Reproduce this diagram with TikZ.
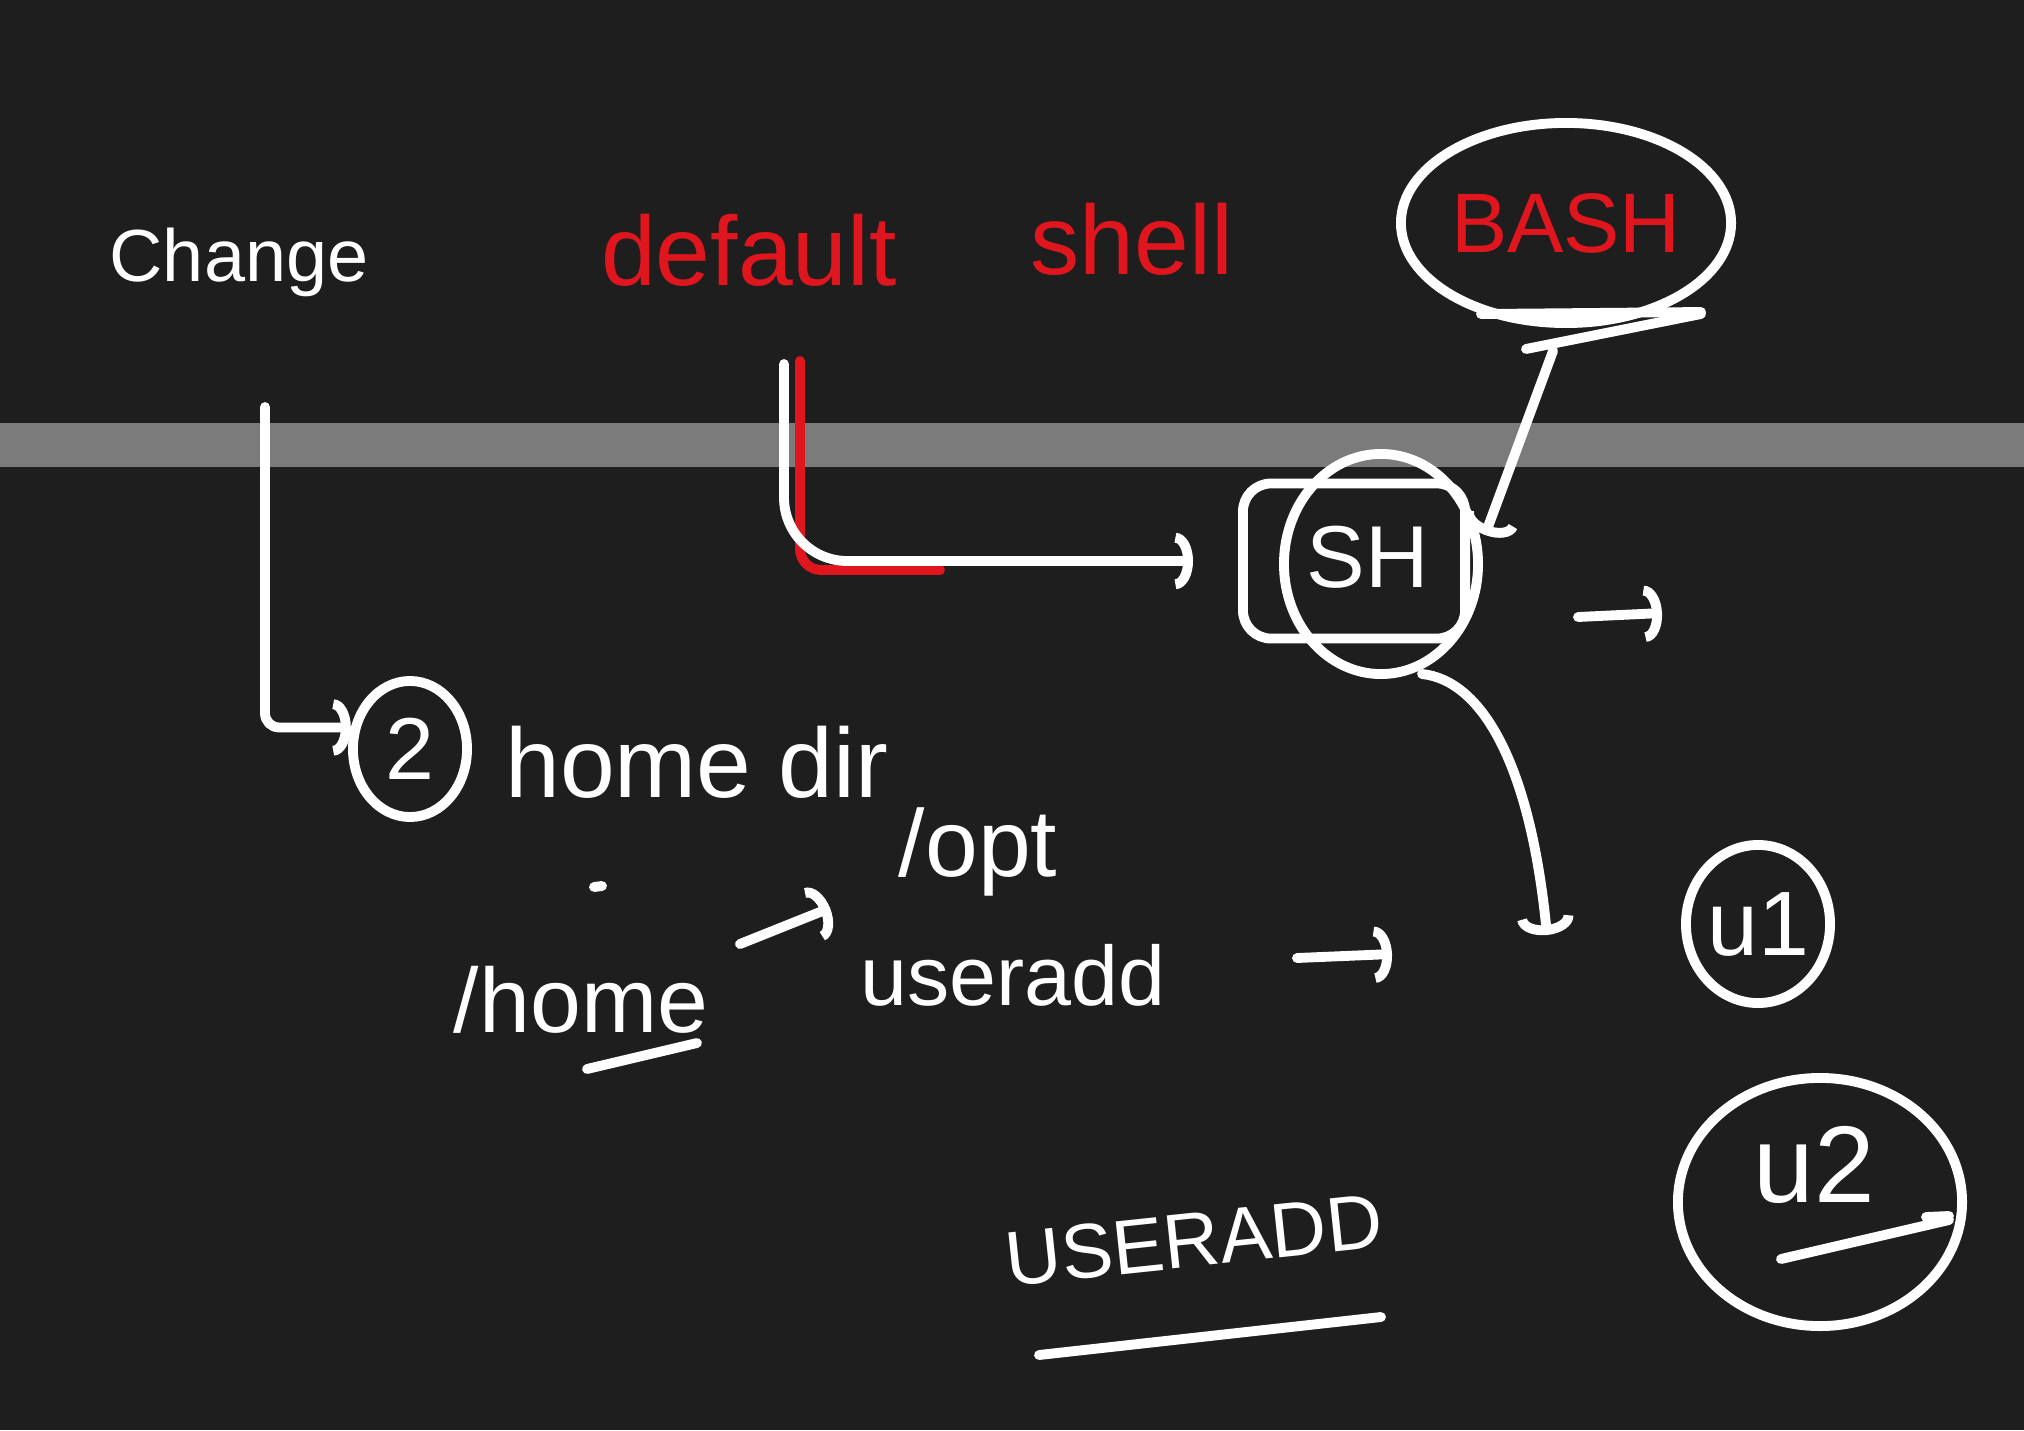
\documentclass[tikz,border=0pt]{standalone}
\usepackage{fontspec}
\setmainfont{Liberation Sans}
\usetikzlibrary{arrows.meta,shapes.geometric}
\definecolor{bgc}{HTML}{1E1E1E}
\definecolor{band}{HTML}{7B7B7B}
\definecolor{inkred}{HTML}{E0161E}
\begin{document}
\begin{tikzpicture}[x=0.01cm,y=-0.01cm,
  ink/.style={white,line width=2.8pt,line cap=round,line join=round},
  rink/.style={inkred,line width=2.8pt,line cap=round,line join=round},
  tipped/.style={ink,-{Arc Barb[length=5pt,width=16pt]}},
  lbl/.style={white,inner sep=0pt},
  rlbl/.style={inkred,inner sep=0pt},
  ring/.style={ink,ellipse,inner sep=0pt}]
\fill[bgc] (0,0) rectangle (2024,1430);
\useasboundingbox (0,0) rectangle (2024,1430);
\fill[band] (0,423) rectangle (2024,467);

% texts
\node[lbl,font=\fontsize{21}{25}\selectfont] (change) at (239,262) {Change};
\node[rlbl,font=\fontsize{28}{32}\selectfont] (default) at (749,250) {default};
\node[rlbl,font=\fontsize{28}{32}\selectfont] (shell) at (1132,239) {shell};
\node[ring,draw,minimum width=3.3cm,minimum height=2.0cm,text=inkred,font=\fontsize{24}{28}\selectfont] (bash) at (1566,223) {BASH};
\node[ring,draw,minimum width=1.14cm,minimum height=1.36cm,text=white,font=\fontsize{25}{29}\selectfont] (two) at (410,749) {2};
\node[lbl,font=\fontsize{28}{32}\selectfont] (homedir) at (697,762) {home dir};
\node[lbl,font=\fontsize{26}{30}\selectfont] (home) at (581,1000) {/home};
\node[lbl,font=\fontsize{27}{31}\selectfont] (opt) at (978,852) {/opt};
\node[lbl,font=\fontsize{24}{28}\selectfont] (useradd) at (1013,975) {useradd};
\node[ink,draw,rectangle,rounded corners=8pt,minimum width=2.22cm,minimum height=1.55cm] (shbox) at (1354,561) {};
\node[ring,draw,minimum width=1.94cm,minimum height=2.2cm] (shring) at (1381,564) {};
\node[lbl,font=\fontsize{25}{29}\selectfont] (sh) at (1368,557) {SH};
\node[ring,draw,minimum width=1.44cm,minimum height=1.58cm,text=white,font=\fontsize{26}{30}\selectfont] (u1) at (1758,924) {u1};
\node[ring,draw,minimum width=2.84cm,minimum height=2.48cm] (u2) at (1820,1202) {};
\node[lbl,font=\fontsize{31}{35}\selectfont] (u2lbl) at (1814,1165) {u2};
\node[lbl,rotate=6,font=\fontsize{22}{26}\selectfont] (useraddcap) at (1194,1240) {USERADD};

% marks
\draw[ink] (587,1069) -- (697,1043);
\draw[ink] (1039,1355) -- (1381,1317);
\draw[ink] (594,887) -- (602,886);
\draw[ink] (1481,314) -- (1701,312);
\draw[ink] (1526,349) -- (1701,314);
\draw[ink] (1781,1259) -- (1949,1220);
\draw[ink] (1926,1217) -- (1949,1216);

% connectors
\coordinate (chgA) at (265,407);
\draw[tipped,rounded corners=4pt] (chgA) |- (two.160);
\coordinate (redA) at (800,361);
\coordinate (redB) at (940,570);
\draw[rink,rounded corners=6pt] (redA) |- (redB);
\coordinate (defA) at (784,364);
\draw[tipped,rounded corners=18pt,shorten >=0.45cm] (defA) |- (shbox.west);
\coordinate (bA) at (1553,351);
\coordinate (bB) at (1485,535);
\draw[tipped] (bA) -- (bB);
\coordinate (rA) at (1578,617);
\coordinate (rB) at (1662,613);
\draw[tipped] (rA) -- (rB);
\coordinate (dA) at (1422,674);
\coordinate (dB) at (1547,935);
\draw[tipped] (dA) .. controls (1480,680) and (1530,760) .. (dB);
\coordinate (hA) at (740,944);
\coordinate (hB) at (830,908);
\draw[tipped] (hA) -- (hB);
\coordinate (uA) at (1297,958);
\coordinate (uB) at (1392,954);
\draw[tipped] (uA) -- (uB);
\end{tikzpicture}
\end{document}
